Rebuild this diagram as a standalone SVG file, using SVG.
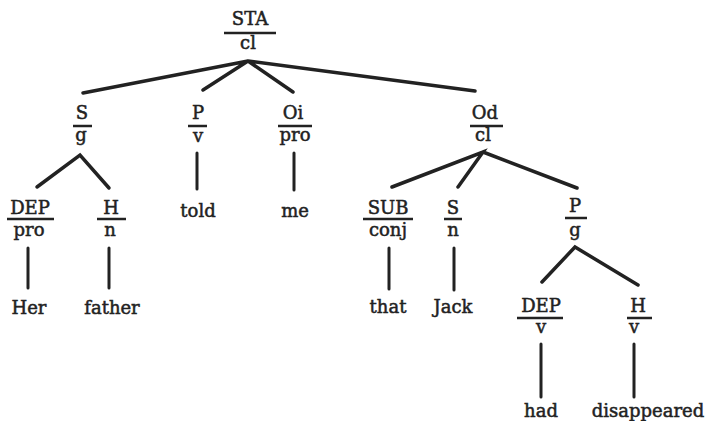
<svg xmlns="http://www.w3.org/2000/svg" width="708" height="421" viewBox="0 0 708 421">
<style>
text{font-family:"DejaVu Serif","Liberation Serif",serif;font-size:18px;fill:#222222;stroke:#222222;stroke-width:0.5;text-anchor:middle}
.bar{stroke:#222222;stroke-width:2.5}
.edge{stroke:#222222;stroke-width:3.5;stroke-linecap:round;fill:none}
.stem{stroke:#222222;stroke-width:3;stroke-linecap:round}
</style>
<rect width="708" height="421" fill="#ffffff"/>
<g id="connectors">
<path class="edge" d="M83,93 L248,61 L203,90 M248,61 L293,92 M248,61 L475,91"/>
<path class="edge" d="M37,187 L80,155 L109,188"/>
<path class="edge" d="M392,187 L483,152 L458,187 M483,152 L577,188"/>
<path class="edge" d="M542,282 L575,247 L638,285"/>
<line class="stem" x1="28" y1="248" x2="28" y2="288"/>
<line class="stem" x1="109" y1="248" x2="109" y2="288"/>
<line class="stem" x1="197" y1="153" x2="197" y2="189"/>
<line class="stem" x1="294" y1="153" x2="294" y2="190"/>
<line class="stem" x1="389" y1="248" x2="389" y2="289"/>
<line class="stem" x1="454" y1="248" x2="454" y2="290"/>
<line class="stem" x1="541" y1="344" x2="541" y2="397"/>
<line class="stem" x1="634" y1="344" x2="634" y2="397"/>
</g>
<g id="n-sta"><text x="250" y="25">STA</text><line class="bar" x1="224" y1="33" x2="276" y2="33"/><text x="248" y="49">cl</text></g>
<g id="n-s"><text x="82" y="119">S</text><line class="bar" x1="73" y1="126" x2="92" y2="126"/><text x="81" y="141">g</text></g>
<g id="n-p"><text x="198" y="119">P</text><line class="bar" x1="188" y1="126" x2="207" y2="126"/><text x="198" y="142">v</text></g>
<g id="n-oi"><text x="293" y="119">Oi</text><line class="bar" x1="278" y1="126" x2="312" y2="126"/><text x="295" y="141">pro</text></g>
<g id="n-od"><text x="485" y="119">Od</text><line class="bar" x1="470" y1="126" x2="503" y2="126"/><text x="483" y="141">cl</text></g>
<g id="n-dep1"><text x="30" y="214">DEP</text><line class="bar" x1="7" y1="219" x2="54" y2="219"/><text x="29" y="236">pro</text></g>
<g id="n-h1"><text x="111" y="214">H</text><line class="bar" x1="97" y1="219" x2="126" y2="219"/><text x="110" y="236">n</text></g>
<g id="n-told"><text x="198" y="217">told</text></g>
<g id="n-me"><text x="295" y="217">me</text></g>
<g id="n-sub"><text x="388" y="214">SUB</text><line class="bar" x1="363" y1="219" x2="413" y2="219"/><text x="388" y="236">conj</text></g>
<g id="n-s2"><text x="453" y="214">S</text><line class="bar" x1="444" y1="219" x2="462" y2="219"/><text x="453" y="236">n</text></g>
<g id="n-p2"><text x="575" y="212">P</text><line class="bar" x1="565" y1="218" x2="587" y2="218"/><text x="575" y="236">g</text></g>
<g id="n-her"><text x="29" y="314">Her</text></g>
<g id="n-father"><text x="112" y="314">father</text></g>
<g id="n-that"><text x="388" y="313">that</text></g>
<g id="n-jack"><text x="453" y="313">Jack</text></g>
<g id="n-dep2"><text x="541" y="312">DEP</text><line class="bar" x1="517" y1="318" x2="563" y2="318"/><text x="541" y="333">v</text></g>
<g id="n-h2"><text x="638" y="312">H</text><line class="bar" x1="627" y1="318" x2="652" y2="318"/><text x="634" y="333">v</text></g>
<g id="n-had"><text x="541" y="417">had</text></g>
<g id="n-disappeared"><text x="648" y="417">disappeared</text></g>
</svg>
